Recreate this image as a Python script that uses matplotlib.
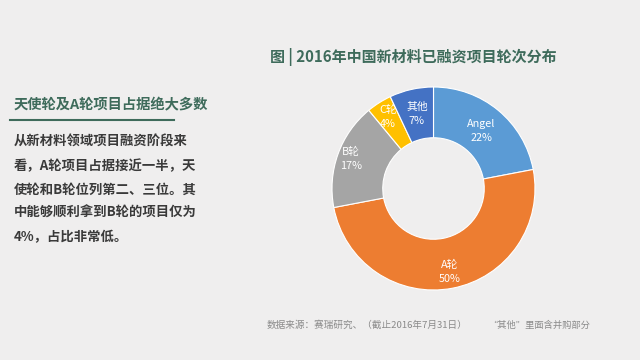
import numpy as np
import matplotlib.pyplot as plt

plt.rcParams['font.family'] = ['Noto Sans CJK SC', 'DejaVu Sans']

# data
stages = ["Angel", "A轮", "B轮", "C轮", "其他"]
shares = [22, 50, 17, 4, 7]
colors = ["#5B9BD5", "#ED7D31", "#A5A5A5", "#FFC000", "#4472C4"]

title = "图 | 2016年中国新材料已融资项目轮次分布"
heading = "天使轮及A轮项目占据绝大多数"
body_lines = [
    "从新材料领域项目融资阶段来",
    "看，A轮项目占据接近一半，天",
    "使轮和B轮位列第二、三位。其",
    "中能够顺利拿到B轮的项目仅为",
    "4%，占比非常低。",
]
source_note = "数据来源：赛瑞研究、（截止2016年7月31日）"
other_note = "“其他”里面含并购部分"

BG = "#EFEEEE"
GREEN = "#3E6B5B"

fig = plt.figure(figsize=(6.4, 3.6), dpi=100, facecolor=BG)


def px(x, y):
    return x / 640, 1 - y / 360


# donut
ax = fig.add_axes([332 / 640, 70 / 360, 203 / 640, 203 / 360])
ax.set_facecolor(BG)
wedges, _ = ax.pie(shares, colors=colors, startangle=90, counterclock=False,
                   radius=1, wedgeprops=dict(width=0.5, edgecolor="white", linewidth=0.8))
ax.set_xlim(-1, 1)
ax.set_ylim(-1, 1)
ax.set_aspect("equal")
ax.axis("off")

label_r = [0.74, 0.84, 0.86, 0.84, 0.75]
for w, name, val, r in zip(wedges, stages, shares, label_r):
    ang = np.deg2rad((w.theta1 + w.theta2) / 2)
    x, y = r * np.cos(ang), r * np.sin(ang)
    ax.text(x, y, f"{name}\n{val}%", ha="center", va="center", color="white",
            fontsize=7.8, linespacing=1.5)

# title
fig.text(*px(270, 57), title, ha="left", va="center", fontsize=10.8,
         fontweight="bold", color=GREEN)

# left heading
fig.text(*px(14, 105), heading, ha="left", va="center", fontsize=10.3,
         fontweight="bold", color=GREEN)
fig.add_artist(plt.Line2D([10 / 640, 174 / 640], [1 - 120 / 360] * 2,
                          color=GREEN, linewidth=1.5))

for i, line in enumerate(body_lines):
    fig.text(*px(14, 142 + i * 23.7), line, ha="left", va="center",
             fontsize=9.6, fontweight="bold", color="#3A3A3A")

# notes
fig.text(*px(267, 325), source_note, ha="left", va="center", fontsize=6.9, color="#8A8A8A")
fig.text(*px(488, 325), other_note, ha="left", va="center", fontsize=6.7, color="#8A8A8A")

fig.savefig("out.png", dpi=100, facecolor=BG)
